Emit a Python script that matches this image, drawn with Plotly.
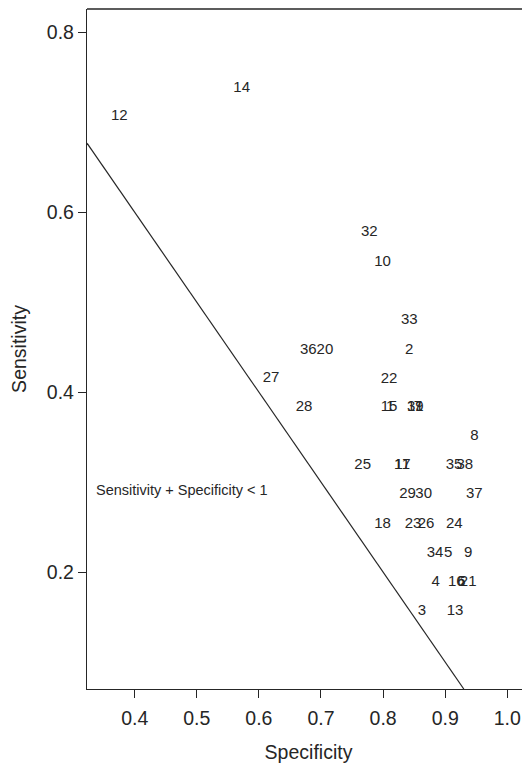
import plotly.graph_objects as go

# Study labels with (specificity, sensitivity)
labels = ["12", "14", "32", "10", "33", "2", "36", "20", "22", "27", "28",
          "15", "1", "31", "19", "7", "8", "25", "17", "11", "35", "38",
          "29", "30", "37", "18", "23", "26", "24", "34", "5", "9",
          "4", "16", "6", "21", "3", "13"]
specificity = [0.3752, 0.5723, 0.7778, 0.7993, 0.8422, 0.8422, 0.6796, 0.7064, 0.8095, 0.6195, 0.6726,
               0.8095, 0.8115, 0.8519, 0.8519, 0.8560, 0.9469, 0.7671, 0.8309, 0.8309, 0.9143, 0.9315,
               0.8393, 0.8654, 0.9469, 0.7993, 0.8482, 0.8691, 0.9147, 0.8836, 0.9050, 0.9372,
               0.8847, 0.9180, 0.9260, 0.9370, 0.8626, 0.9160]
sensitivity = [0.7062, 0.7378, 0.5778, 0.5440, 0.4796, 0.4470, 0.4470, 0.4470, 0.4148, 0.4159, 0.3829,
               0.3829, 0.3829, 0.3829, 0.3829, 0.3829, 0.3507, 0.3184, 0.3184, 0.3184, 0.3184, 0.3184,
               0.2870, 0.2870, 0.2870, 0.2526, 0.2526, 0.2526, 0.2526, 0.2211, 0.2211, 0.2211,
               0.1884, 0.1884, 0.1884, 0.1884, 0.1559, 0.1559]

x_ticks = [0.4, 0.5, 0.6, 0.7, 0.8, 0.9, 1.0]
x_ticktext = ["0.4", "0.5", "0.6", "0.7", "0.8", "0.9", "1.0"]
y_ticks = [0.2, 0.4, 0.6, 0.8]
y_ticktext = ["0.2", "0.4", "0.6", "0.8"]

x_range = [0.3232, 1.0366]
y_range = [0.0700, 0.8259]

INK = "#262626"
FONT = "Liberation Sans, Arial, Helvetica, sans-serif"

fig = go.Figure()

# Sensitivity + Specificity = 1 line
line_x = [x_range[0], 1 - y_range[0]]
line_y = [1 - v for v in line_x]
fig.add_trace(go.Scatter(x=line_x, y=line_y, mode="lines",
                         line=dict(color=INK, width=1.2), hoverinfo="skip",
                         showlegend=False))

fig.add_trace(go.Scatter(x=specificity, y=sensitivity, mode="text", text=labels,
                         textposition="middle center",
                         textfont=dict(family=FONT, size=15, color=INK),
                         showlegend=False, cliponaxis=False))

fig.add_annotation(x=0.335, y=0.2915, xref="x", yref="y", xanchor="left",
                   text="Sensitivity + Specificity < 1", showarrow=False,
                   font=dict(family=FONT, size=14.5, color=INK))

# top border of the box
fig.add_shape(type="line", xref="paper", yref="paper", x0=0, x1=1, y0=1, y1=1,
              line=dict(color=INK, width=1.3))

fig.update_xaxes(range=x_range, tickvals=x_ticks, ticktext=x_ticktext,
                 showgrid=False, zeroline=False, showline=True, linecolor=INK,
                 linewidth=1.3, ticks="outside", ticklen=8, tickwidth=1.2,
                 tickcolor=INK, tickfont=dict(family=FONT, size=19.5, color=INK),
                 ticklabelstandoff=3,
                 title=dict(text="Specificity", font=dict(family=FONT, size=19.5, color=INK),
                            standoff=17))
fig.update_yaxes(range=y_range, tickvals=y_ticks, ticktext=y_ticktext,
                 showgrid=False, zeroline=False, showline=True, linecolor=INK,
                 linewidth=1.3, ticks="outside", ticklen=8, tickwidth=1.2,
                 tickcolor=INK, tickfont=dict(family=FONT, size=19.5, color=INK),
                 title=dict(text="Sensitivity", font=dict(family=FONT, size=19.5, color=INK),
                            standoff=18))

fig.update_layout(width=522, height=756,
                  margin=dict(l=79, r=0, t=1, b=75),
                  plot_bgcolor="white", paper_bgcolor="white")

fig.write_html("out.html")
